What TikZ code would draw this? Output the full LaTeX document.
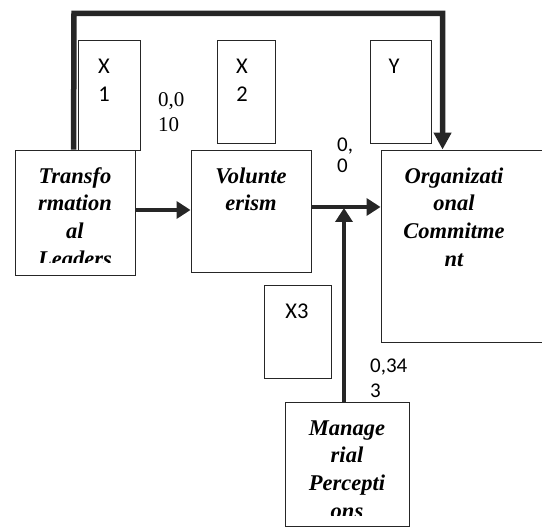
\documentclass[tikz,border=0pt]{standalone}
\usepackage{fontspec}
\setmainfont{Liberation Serif}
\newfontfamily\labsans{Carlito}
\usetikzlibrary{arrows.meta}
\tikzset{
  box/.style={draw=black!85, line width=0.9pt, inner sep=0pt, fill=none},
  boxtext/.style={anchor=base, inner sep=0pt, text width=124pt, align=center,
    font=\fontsize{22.5}{28}\selectfont\bfseries\itshape},
  sanslab/.style={anchor=base, inner sep=0pt, font=\fontsize{22.5}{28}\selectfont\labsans},
  numlab/.style={anchor=base west, inner sep=0pt, font=\fontsize{21}{26}\selectfont\labsans},
  serlab/.style={anchor=base west, inner sep=0pt, font=\fontsize{21}{25}\selectfont},
  conn/.style={line width=3.5pt, draw=black!85, -{Triangle[length=14pt,width=17pt]}},
  bigconn/.style={line width=5.5pt, draw=black!85, -{Triangle[length=17pt,width=17pt]}}
}
\begin{document}
\begin{tikzpicture}[x=1pt,y=-1pt]
\useasboundingbox (0,0) rectangle (542,527);
% small variable boxes
\node[box, minimum width=62pt, minimum height=110pt] (x1) at (109,95) {};
\node[box, minimum width=58pt, minimum height=103pt] (x2) at (246,91.5) {};
\node[box, minimum width=61pt, minimum height=103pt] (yb) at (400.5,91.5) {};
\node[box, minimum width=67pt, minimum height=93pt] (x3) at (297.5,331.5) {};
\node[sanslab] (x1a) at (104,74) {X};
\node[sanslab] (x1b) at (104,102) {1};
\node[sanslab] (x2a) at (242,74) {X};
\node[sanslab] (x2b) at (242,102) {2};
\node[sanslab] (ya) at (394,74) {Y};
\node[sanslab] (x3a) at (297,318) {X3};
% main boxes
\node[box, fill=white, minimum width=120pt, minimum height=125pt] (tl) at (75,212.5) {};
\node[box, fill=white, minimum width=120pt, minimum height=122pt] (vol) at (251,211) {};
\node[box, fill=white, minimum width=180pt, minimum height=192pt] (org) at (471,246) {};
\node[box, fill=white, minimum width=124pt, minimum height=124pt] (man) at (347,464) {};
\begin{scope}
\clip (15,150) rectangle (135,263);
\node[boxtext] (tlt) at (75,183) {Transfo\\rmation\\al\\Leaders};
\end{scope}
\node[boxtext] (volt) at (251,183) {Volunte\\erism};
\node[boxtext] (orgt) at (454,183) {Organizati\\onal\\Commitme\\nt};
\begin{scope}
\clip (285,402) rectangle (409,515);
\node[boxtext] (mant) at (347,435) {Manage\\rial\\Percepti\\ons};
\end{scope}
% value labels
\node[serlab] (v1a) at (158,106.5) {0,0};
\node[serlab] (v1b) at (158,131.5) {10};
\node[numlab] (v2a) at (337,152) {0,};
\node[numlab] (v2b) at (337,173) {0};
\node[numlab] (v3a) at (370,372) {0,34};
\node[numlab] (v3b) at (370,397) {3};
% connectors
\coordinate (topl) at (74,13.5);
\draw[bigconn] ([xshift=59pt]tl.north west) -- (topl) -| ([xshift=62pt]org.north west);
\draw[conn] ([yshift=2.5pt]tl.east) -- ([yshift=2.5pt]tl.east -| vol.west);
\draw[conn] ([yshift=4pt]vol.east) -- ([yshift=4pt]vol.east -| org.west);
\coordinate (junc) at (344,208);
\draw[conn] ([xshift=-3pt]man.north) -- (junc);
\end{tikzpicture}
\end{document}
